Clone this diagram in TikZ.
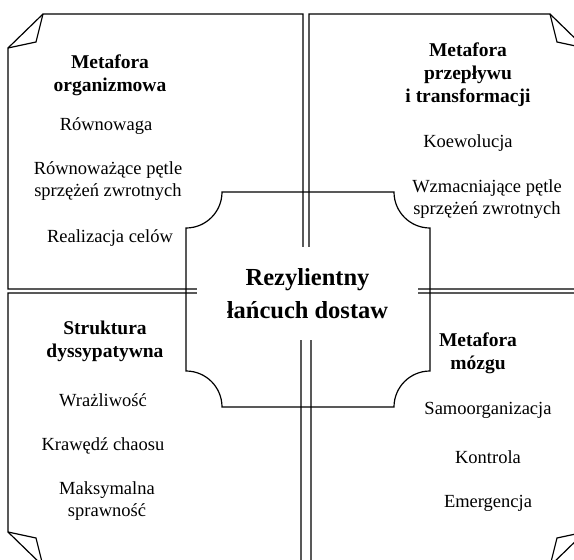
\documentclass[tikz,border=0pt]{standalone}
\usepackage{fontspec}
\setmainfont{Liberation Serif}
\usetikzlibrary{positioning}

\tikzset{
  head/.style={font=\fontsize{19.5}{23}\selectfont\bfseries, align=center, inner sep=0pt},
  item/.style={font=\fontsize{18.5}{22}\selectfont, align=center, inner sep=0pt},
}

\begin{document}
\begin{tikzpicture}[x=1pt, y=-1pt, line width=1.2pt]
\useasboundingbox (0,0) rectangle (574,560);
\clip (0,0) rectangle (574,560);

% the four metaphors, each with a folded corner
\draw (43,14) -- (303,14) -- (303,289) -- (8,289) -- (8,48) -- cycle;
\draw (43,14) -- (36,42) -- (8,48);

\draw (309,14) -- (550,14) -- (585,48) -- (585,289) -- (309,289) -- cycle;
\draw (550,14) -- (557,42) -- (585,48);

\draw (8,293) -- (301,293) -- (301,566) -- (43,566) -- (8,532) -- cycle;
\draw (8,532) -- (36,538) -- (43,566);

\draw (311,293) -- (585,293) -- (585,532) -- (550,566) -- (311,566) -- cycle;
\draw (585,532) -- (557,538) -- (550,566);

% headings
\foreach \x/\y/\txt [count=\i] in {110/75/{Metafora\\organizmowa},
    468/75/{Metafora\\przepływu\\i transformacji},
    105/341/{Struktura\\dyssypatywna},
    478/353/{Metafora\\mózgu}} {
  \node[head] (head\i) at (\x,\y) {\txt};
}

% features
\foreach \x/\y/\txt [count=\i] in {106/126/Równowaga,
    108/181/{Równoważące pętle\\sprzężeń zwrotnych},
    110/238/{Realizacja celów},
    468/143/Koewolucja,
    487/199/{Wzmacniające pętle\\sprzężeń zwrotnych},
    103/400/Wrażliwość,
    103/446/{Krawędź chaosu},
    107/501/{Maksymalna\\sprawność},
    488/410/Samoorganizacja,
    488/457/Kontrola,
    488/503/Emergencja} {
  \node[item] (item\i) at (\x,\y) {\txt};
}

% centre
\draw (222,192) -- (394,192) .. controls (394,211.9) and (410.1,228) .. (430,228)
  -- (430,371) .. controls (410.1,371) and (394,387.1) .. (394,407)
  -- (222,407) .. controls (222,387.1) and (205.9,371) .. (186,371)
  -- (186,228) .. controls (205.9,228) and (222,211.9) .. (222,192) -- cycle;
\node[fill=white, minimum width=221pt, minimum height=93pt, align=center,
  font=\fontsize{24.5}{33}\selectfont\bfseries] (core) at (307.5,293.5)
  {Rezylientny\\łańcuch dostaw};
\end{tikzpicture}
\end{document}
